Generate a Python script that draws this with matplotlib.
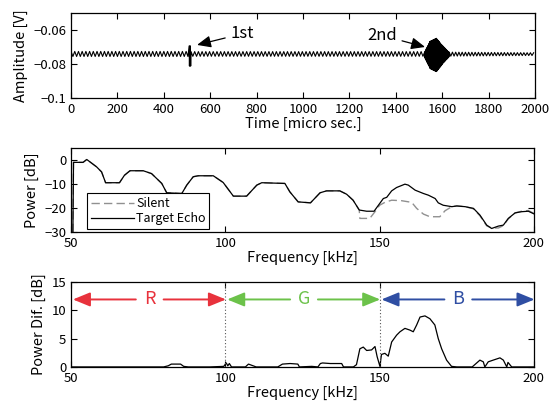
import numpy as np
import matplotlib.pyplot as plt

plt.rcParams['font.family'] = ['Noto Sans CJK JP', 'DejaVu Sans']
plt.rcParams['font.size'] = 9.5
plt.rcParams['axes.unicode_minus'] = True

# --- time signal, described as segments of a zigzag (start, end, centre, amplitude, period)
seg_t0 = [0, 509, 517, 1524, 1548, 1575, 1600, 1630]
seg_t1 = [509, 517, 1524, 1548, 1575, 1600, 1630, 2000]
seg_center = [-0.0741, -0.0753, -0.0741, -0.0746, -0.0747, -0.0747, -0.0745, -0.0742]
seg_amp0 = [0.0015, 0.0059, 0.0014, 0.0015, 0.0080, 0.0098, 0.0055, 0.0012]
seg_amp1 = [0.0015, 0.0059, 0.0014, 0.0080, 0.0098, 0.0055, 0.0012, 0.0008]
seg_period = [16, 2.7, 16, 2.5, 2.5, 2.5, 2.5, 14]

# --- power spectra
echo_f = [50.6, 50.8, 53.9, 55.1, 58.3, 59.9, 61.2, 65.7, 67.3, 69.1, 73.4, 76.1, 79.4, 81.0,
          85.9, 87.5, 89.6, 91.2, 96.1, 99.3, 102.6, 106.9, 110.2, 111.8, 119.3, 120.9, 123.6,
          127.6, 130.7, 132.8, 137.1, 139.3, 141.4, 143.4, 145.8, 148.2, 149.5, 151.2, 152.3,
          153.9, 155.5, 158.2, 159.3, 161.5, 164.2, 165.8, 168.0, 169.0, 170.6, 173.4, 175.0,
          177.7, 180.4, 182.5, 184.7, 186.3, 188.5, 190.1, 191.7, 193.9, 196.0, 198.2, 200.0]
echo_db = [-30, -0.9, -0.9, 0.3, -2.8, -4.9, -9.4, -9.4, -6.3, -4.4, -4.4, -5.6, -9.7, -13.6,
           -13.9, -10.4, -6.9, -6.5, -6.5, -9.3, -15.0, -15.0, -10.4, -9.4, -9.7, -13.2, -17.4,
           -17.8, -13.6, -12.8, -12.8, -14.2, -16.7, -20.8, -21.3, -21.3, -19.0, -16.0, -15.5,
           -12.8, -11.4, -10.0, -10.4, -12.5, -13.9, -14.6, -16.0, -17.8, -18.8, -19.4, -19.1,
           -19.4, -20.1, -22.9, -27.1, -28.5, -27.5, -27.1, -24.3, -22.0, -21.5, -21.3, -22.4]

silent_f = [50.6, 50.8, 53.9, 55.1, 58.3, 59.9, 61.2, 65.7, 67.3, 69.1, 73.4, 76.1, 79.4, 81.0,
            85.9, 87.5, 89.6, 91.2, 96.1, 99.3, 102.6, 106.9, 110.2, 111.8, 119.3, 120.9, 123.6,
            127.6, 130.7, 132.8, 137.1, 139.3, 141.4, 143.4, 143.6, 146.8, 148.5, 150.0, 151.7,
            153.9, 157.1, 160.4, 162.0, 164.2, 166.3, 169.5, 171.2, 173.4, 175.0, 177.7, 180.4,
            182.5, 184.7, 186.3, 188.5, 190.1, 191.7, 193.9, 196.0, 198.2, 200.0]
silent_db = [-30, -0.9, -0.9, 0.3, -2.8, -4.9, -9.4, -9.4, -6.3, -4.4, -4.4, -5.6, -9.7, -13.6,
             -13.9, -10.4, -6.9, -6.5, -6.5, -9.3, -15.0, -15.0, -10.4, -9.4, -9.7, -13.2, -17.4,
             -17.8, -13.6, -12.8, -12.8, -14.2, -16.7, -20.8, -24.3, -24.3, -21.5, -18.8, -17.6,
             -16.7, -16.9, -17.6, -20.1, -22.5, -23.6, -23.6, -21.1, -19.4, -19.1, -19.4, -20.3,
             -23.2, -27.4, -28.3, -28.3, -27.3, -24.5, -22.0, -21.3, -21.0, -22.2]

# --- power difference
dif_f = [50, 60, 70, 80, 81.5, 82.5, 85.5, 86.5, 88, 95, 99.5, 100.3, 100.8, 101.3, 102, 106.5,
         107.5, 108.5, 110, 117, 118.5, 121, 123.5, 124, 128, 130, 130.8, 131.5, 134, 137.7,
         138.3, 140, 141.5, 142.5, 143.6, 144.7, 145.8, 147.4, 148.5, 149.2, 150.1, 150.6,
         151.7, 152.8, 153.9, 155.5, 156.6, 158.2, 159.8, 160.9, 162.0, 163.1, 164.7, 166.3,
         167.9, 169.0, 170.1, 171.7, 173.3, 175, 180, 182.5, 183.6, 184.1, 185.2, 186.8, 189.0,
         190.1, 191.2, 191.6, 192.8, 200]
dif_db = [0, 0, 0, 0, 0.2, 0.5, 0.5, 0.1, 0, 0, 0.1, 0.7, 0.2, 0.6, 0, 0, 0.5, 0.3, 0, 0, 0.5,
          0.6, 0.5, 0, 0.1, 0, 0.6, 0.7, 0.6, 0.6, 0, 0, 0, 0.4, 3.2, 3.5, 2.9, 3.0, 3.6, 1.8,
          0.1, 2.2, 2.4, 1.9, 4.4, 5.6, 6.2, 6.8, 6.5, 6.2, 7.4, 8.8, 9.0, 8.5, 7.4, 5.0, 3.2,
          1.2, 0.1, 0, 0, 1.2, 0.9, 0, 0.9, 1.2, 1.6, 1.2, 0, 0.8, 0, 0]

bands = ['R', 'G', 'B']
band_edges = [(50, 100), (100, 150), (150, 200)]
band_colors = ['#e8323c', '#6cc24a', '#2f4ea3']


def style_axes(ax):
    ax.tick_params(direction='in', top=True, right=True, length=4, width=0.8)
    for s in ax.spines.values():
        s.set_linewidth(0.9)


fig = plt.figure(figsize=(5.55, 4.05), dpi=100)

# ---------- top: time signal
ax1 = fig.add_axes([0.128, 0.758, 0.836, 0.210])
tt, yy = [], []
for t0, t1, c, a0, a1, p in zip(seg_t0, seg_t1, seg_center, seg_amp0, seg_amp1, seg_period):
    ts = np.arange(t0, t1, p / 2.0)
    amps = a0 + (a1 - a0) * (ts - t0) / (t1 - t0)
    sign = np.where(np.arange(len(ts)) % 2 == 0, 1, -1)
    tt.extend(ts)
    yy.extend(c + sign * amps)
ax1.plot(tt, yy, color='black', lw=0.8)
ax1.set_xlim(0, 2000)
ax1.set_ylim(-0.1, -0.05)
ax1.set_xticks(range(0, 2001, 200))
ax1.set_yticks([-0.1, -0.08, -0.06])
ax1.set_yticklabels(['\u22120.1', '\u22120.08', '\u22120.06'])
ax1.set_xlabel('Time [micro sec.]', labelpad=1, fontsize=10.5)
ax1.set_ylabel('Amplitude [V]', fontsize=10.5)
ax1.annotate('1st', xy=(543, -0.0688), xytext=(688, -0.0622), fontsize=12,
             va='center', ha='left',
             arrowprops=dict(arrowstyle='-|>,head_length=0.7,head_width=0.3',
                             color='black', lw=0.9, shrinkA=2, shrinkB=0))
ax1.annotate('2nd', xy=(1526, -0.0700), xytext=(1275, -0.0632), fontsize=12,
             va='center', ha='left',
             arrowprops=dict(arrowstyle='-|>,head_length=0.7,head_width=0.3',
                             color='black', lw=0.9, shrinkA=2, shrinkB=0))
style_axes(ax1)

# ---------- middle: power spectra
ax2 = fig.add_axes([0.128, 0.427, 0.834, 0.207])
ax2.plot(silent_f, silent_db, color='#909090', lw=1.0, ls=(0, (6, 3)), label='Silent')
ax2.plot(echo_f, echo_db, color='black', lw=0.9, label='Target Echo')
ax2.set_xlim(50, 200)
ax2.set_ylim(-30, 5)
ax2.set_xticks([50, 100, 150, 200])
ax2.set_yticks([-30, -20, -10, 0])
ax2.set_xlabel('Frequency [kHz]', labelpad=1, fontsize=10.5)
ax2.set_ylabel('Power [dB]', fontsize=10.5)
leg = ax2.legend(loc='lower left', bbox_to_anchor=(0.03, 0.01), fontsize=9,
                 fancybox=False, edgecolor='black', framealpha=1, handlelength=3.4,
                 borderpad=0.3, labelspacing=0.15, handletextpad=0.2, borderaxespad=0.2)
leg.get_frame().set_linewidth(0.8)
style_axes(ax2)

# ---------- bottom: power difference
ax3 = fig.add_axes([0.128, 0.094, 0.834, 0.210])
ax3.plot(dif_f, dif_db, color='black', lw=0.9)
for xv in [100, 150]:
    ax3.axvline(xv, color='#555555', lw=0.8, ls=(0, (1, 2)))
ax3.set_xlim(50, 200)
ax3.set_ylim(0, 15)
ax3.set_xticks([50, 100, 150, 200])
ax3.set_yticks([0, 5, 10, 15])
ax3.set_xlabel('Frequency [kHz]', labelpad=1, fontsize=10.5)
ax3.set_ylabel('Power Dif. [dB]', fontsize=10.5)
y_arrow = 11.9
for name, (f0, f1), col in zip(bands, band_edges, band_colors):
    mid = (f0 + f1) / 2.0 + 0.5
    aprops = dict(arrowstyle='-|>,head_length=1.1,head_width=0.45', color=col, lw=1.4,
                  shrinkA=0, shrinkB=0)
    ax3.annotate('', xy=(f0 + 0.6, y_arrow), xytext=(mid - 4.5, y_arrow),
                 arrowprops=aprops, annotation_clip=False)
    ax3.annotate('', xy=(f1 + 0.2, y_arrow), xytext=(mid + 4.5, y_arrow),
                 arrowprops=aprops, annotation_clip=False)
    ax3.text(mid, y_arrow, name, color=col, fontsize=13, ha='center', va='center')
style_axes(ax3)

fig.savefig('out.png', dpi=100)
